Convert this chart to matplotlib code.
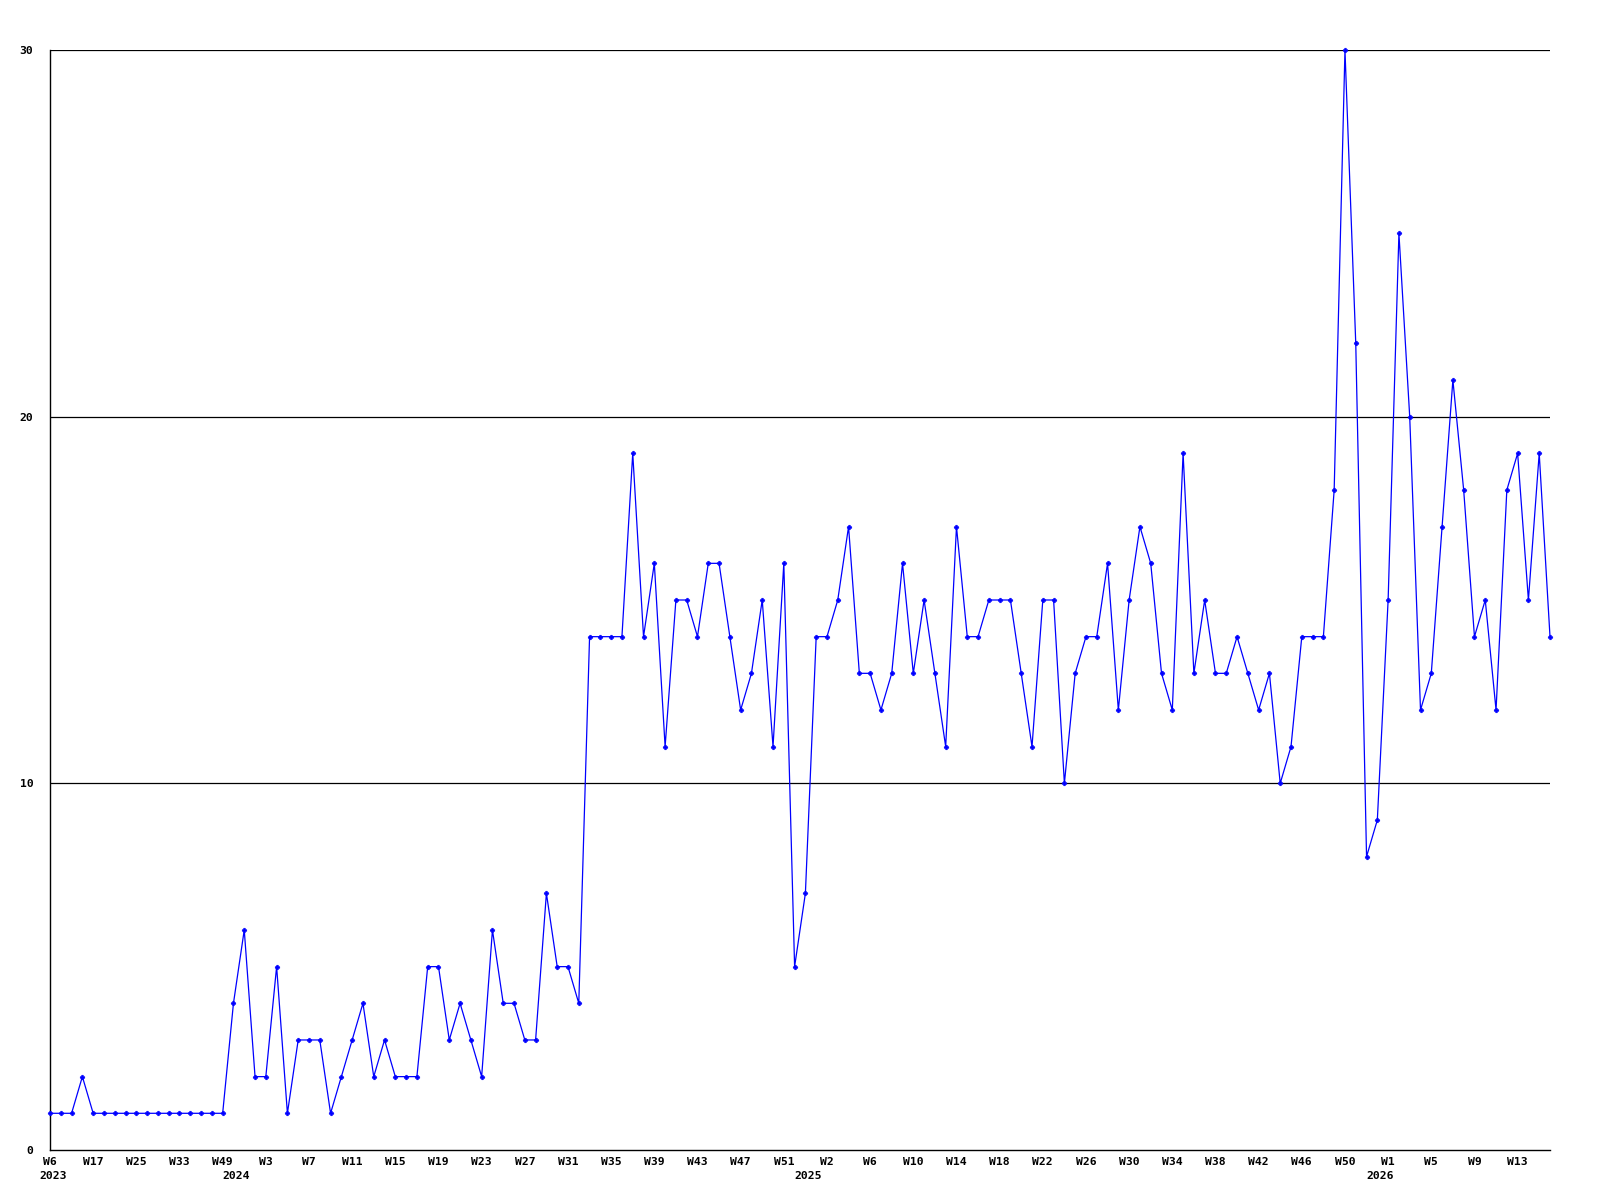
import matplotlib
matplotlib.use("Agg")
import matplotlib.pyplot as plt
import matplotlib.transforms as mtransforms

# weekly counts, one value per plotted week (2023 weeks are sparse)
values = [
    1, 1, 1, 2, 1, 1, 1, 1, 1, 1, 1, 1, 1, 1, 1, 1, 1,          # 2023
    4, 6, 2, 2, 5, 1, 3, 3, 3, 1, 2, 3, 4, 2, 3, 2, 2, 2,       # 2024
    5, 5, 3, 4, 3, 2, 6, 4, 4, 3, 3, 7, 5, 5, 4,
    14, 14, 14, 14, 19, 14, 16, 11, 15, 15, 14, 16, 16, 14,
    12, 13, 15, 11, 16, 5,
    7, 14, 14, 15, 17, 13, 13, 12, 13, 16, 13, 15, 13, 11,     # 2025
    17, 14, 14, 15, 15, 15, 13, 11, 15, 15, 10, 13, 14, 14,
    16, 12, 15, 17, 16, 13, 12, 19, 13, 15, 13, 13, 14, 13,
    12, 13, 10, 11, 14, 14, 14, 18, 30, 22, 8,
    9, 15, 25, 20, 12, 13, 17, 21, 18, 14, 15, 12, 18, 19,     # 2026
    15, 19, 14,
]

week_labels = [
    "W6", "W17", "W25", "W33", "W49",
    "W3", "W7", "W11", "W15", "W19", "W23", "W27", "W31", "W35", "W39",
    "W43", "W47", "W51",
    "W2", "W6", "W10", "W14", "W18", "W22", "W26", "W30", "W34", "W38",
    "W42", "W46", "W50",
    "W1", "W5", "W9", "W13",
]
label_every = 4

years = ["2023", "2024", "2025", "2026"]
year_first_idx = [0, 17, 70, 123]

y_ticks = [0, 10, 20, 30]

fig = plt.figure(figsize=(16, 12), dpi=100)
ax = fig.add_axes([0.03125, 0.0417, 0.9375, 0.9166])

x = list(range(len(values)))
ax.plot(x, values, color="#0000ff", lw=0.9, marker="P", ms=3.2,
        mec="#0000ff", mfc="#0000ff", mew=0.5, clip_on=False, zorder=3)

ax.set_xlim(0, len(values) - 1)
ax.set_ylim(0, 30)

for yv in y_ticks[1:]:
    ax.axhline(yv, color="black", lw=0.9, zorder=1)

font = dict(family="DejaVu Sans Mono", fontweight="bold", fontsize=8.2)

ax.set_yticks(y_ticks)
ax.set_yticklabels([str(v) for v in y_ticks], **font)
ax.set_xticks(range(0, len(values), label_every)[:len(week_labels)])
ax.set_xticklabels(week_labels, **font)
ax.tick_params(axis="both", length=0)
ax.tick_params(axis="y", pad=12)
ax.tick_params(axis="x", pad=5)

for side in ["top", "right"]:
    ax.spines[side].set_visible(False)
for side in ["left", "bottom"]:
    ax.spines[side].set_linewidth(1.0)
    ax.spines[side].set_color("black")

# year captions under the first week of each year
trans = mtransforms.blended_transform_factory(ax.transData, ax.transAxes)
for yr, idx in zip(years, year_first_idx):
    ax.annotate(yr, xy=(idx, 0), xycoords=trans, xytext=(3, -26.5),
                textcoords="offset pixels", ha="center", va="center", **font)

fig.savefig("out.png", dpi=100, facecolor="white")
